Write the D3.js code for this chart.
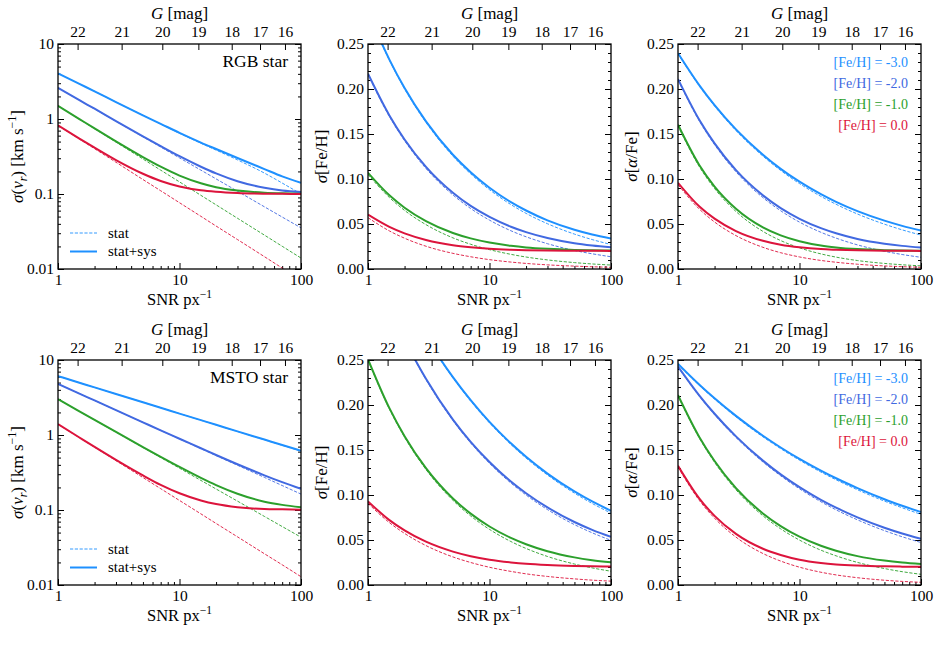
<!DOCTYPE html>
<html>
<head>
<meta charset="utf-8">
<script src="https://cdn.jsdelivr.net/npm/d3@7"></script>
<style>
  body { margin: 0; background: #fff; }
  svg { font-family: "Liberation Serif", "Times New Roman", serif; }
</style>
</head>
<body>
<svg id="fig" width="937" height="648"></svg>
<script>
// sample points along the SNR axis
const snr = [1, 1.5, 2, 3, 5, 7, 10, 15, 20, 30, 50, 70, 100];
const metals = ["-3.0", "-2.0", "-1.0", "0.0"];
const colors = ["#1e90ff", "#4169e1", "#2ca02c", "#dc143c"];
const gMag = [22, 21, 20, 19, 18, 17, 16];
const gSnr = [1.45, 3.34, 7.22, 14.3, 26.9, 46.0, 73.8];

// RGB star, sigma(v_r) [km/s], series order [Fe/H] = -3, -2, -1, 0
const rgbVrStat = [
  [4.07, 2.94, 2.34, 1.68, 1.12, 0.857, 0.645, 0.475, 0.385, 0.285, 0.19, 0.14, 0.10],
  [2.6, 1.78, 1.36, 0.933, 0.579, 0.423, 0.303, 0.208, 0.159, 0.109, 0.0675, 0.0493, 0.0354],
  [1.5, 0.994, 0.742, 0.492, 0.293, 0.208, 0.145, 0.096, 0.0717, 0.0475, 0.0283, 0.0201, 0.014],
  [0.82, 0.54, 0.402, 0.265, 0.156, 0.1105, 0.0765, 0.0504, 0.0374, 0.0247, 0.0146, 0.0103, 0.00714]
];
const rgbVrTot = [
  [4.07, 2.94, 2.34, 1.68, 1.12, 0.863, 0.653, 0.485, 0.398, 0.302, 0.215, 0.172, 0.141],
  [2.6, 1.78, 1.37, 0.938, 0.588, 0.435, 0.319, 0.231, 0.188, 0.148, 0.121, 0.111, 0.106],
  [1.5, 0.999, 0.749, 0.502, 0.31, 0.231, 0.176, 0.139, 0.123, 0.111, 0.104, 0.102, 0.101],
  [0.826, 0.549, 0.414, 0.283, 0.186, 0.149, 0.126, 0.112, 0.107, 0.103, 0.101, 0.1005, 0.1]
];
// RGB star, sigma[Fe/H]
const rgbFehStat = [
  [0.285, 0.2318, 0.2001, 0.1628, 0.1254, 0.1057, 0.0881, 0.0716, 0.0618, 0.0503, 0.0388, 0.0327, 0.0272],
  [0.216, 0.1694, 0.1425, 0.1117, 0.0823, 0.0672, 0.0543, 0.0425, 0.0358, 0.0281, 0.0206, 0.0169, 0.0136],
  [0.105, 0.0794, 0.0651, 0.0493, 0.0346, 0.0275, 0.0215, 0.0163, 0.0133, 0.0101, 0.0071, 0.0056, 0.0044],
  [0.057, 0.0423, 0.0342, 0.0253, 0.0174, 0.0136, 0.0104, 0.0077, 0.0062, 0.0046, 0.0032, 0.0025, 0.0019]
];
const rgbFehTot = [
  [0.2857, 0.2327, 0.2011, 0.164, 0.127, 0.1076, 0.0903, 0.0743, 0.065, 0.0541, 0.0436, 0.0383, 0.0338],
  [0.2169, 0.1706, 0.1439, 0.1135, 0.0847, 0.0701, 0.0579, 0.047, 0.041, 0.0345, 0.0287, 0.0262, 0.0242],
  [0.1069, 0.0819, 0.0681, 0.0532, 0.04, 0.034, 0.0294, 0.0258, 0.024, 0.0224, 0.0212, 0.0208, 0.0205],
  [0.0604, 0.0468, 0.0396, 0.0323, 0.0265, 0.0242, 0.0225, 0.0214, 0.0209, 0.0205, 0.0203, 0.0202, 0.0201]
];
// RGB star, sigma[alpha/Fe]
const rgbAlphaStat = [
  [0.239, 0.2031, 0.181, 0.1538, 0.1254, 0.1095, 0.0949, 0.0807, 0.0719, 0.0611, 0.0498, 0.0435, 0.0377],
  [0.21, 0.1643, 0.1381, 0.108, 0.0793, 0.0647, 0.0521, 0.0408, 0.0343, 0.0268, 0.0197, 0.0161, 0.013],
  [0.159, 0.1136, 0.0894, 0.0639, 0.0418, 0.0316, 0.0235, 0.0168, 0.0132, 0.0094, 0.0062, 0.0047, 0.0035],
  [0.0937, 0.0665, 0.0522, 0.0371, 0.0241, 0.0181, 0.0134, 0.0095, 0.0075, 0.0053, 0.0034, 0.0026, 0.0019]
];
const rgbAlphaTot = [
  [0.2398, 0.2041, 0.1821, 0.1551, 0.127, 0.1113, 0.097, 0.0831, 0.0746, 0.0643, 0.0537, 0.0479, 0.0427],
  [0.211, 0.1655, 0.1395, 0.1098, 0.0818, 0.0677, 0.0558, 0.0454, 0.0397, 0.0334, 0.0281, 0.0257, 0.0239],
  [0.1603, 0.1153, 0.0916, 0.067, 0.0463, 0.0374, 0.0309, 0.0261, 0.024, 0.0221, 0.0209, 0.0205, 0.0203],
  [0.0958, 0.0694, 0.0559, 0.0421, 0.0313, 0.027, 0.0241, 0.0221, 0.0214, 0.0207, 0.0203, 0.0202, 0.0201]
];
// MSTO star, sigma(v_r)
const mstoVrStat = [
  [6.1, 4.98, 4.31, 3.52, 2.73, 2.31, 1.93, 1.575, 1.364, 1.114, 0.863, 0.729, 0.61],
  [4.8, 3.56, 2.886, 2.143, 1.473, 1.15, 0.886, 0.658, 0.532, 0.395, 0.272, 0.212, 0.163],
  [3.0, 2.066, 1.586, 1.092, 0.682, 0.501, 0.361, 0.248, 0.1906, 0.1313, 0.0821, 0.0602, 0.0434],
  [1.39, 0.921, 0.687, 0.455, 0.271, 0.1925, 0.134, 0.0888, 0.0662, 0.0439, 0.0261, 0.0186, 0.0129]
];
const mstoVrTot = [
  [6.1, 4.98, 4.31, 3.52, 2.73, 2.31, 1.93, 1.578, 1.368, 1.118, 0.869, 0.736, 0.618],
  [4.8, 3.56, 2.888, 2.145, 1.476, 1.154, 0.892, 0.666, 0.541, 0.407, 0.29, 0.235, 0.191],
  [3.0, 2.068, 1.589, 1.097, 0.689, 0.511, 0.375, 0.268, 0.215, 0.165, 0.129, 0.117, 0.109],
  [1.394, 0.926, 0.694, 0.466, 0.289, 0.216, 0.167, 0.134, 0.12, 0.109, 0.103, 0.102, 0.101]
];
// MSTO star, sigma[Fe/H]
const mstoFehStat = [
  [0.406, 0.3519, 0.3179, 0.2755, 0.23, 0.2043, 0.1801, 0.1561, 0.141, 0.1222, 0.1021, 0.0906, 0.0799],
  [0.368, 0.3085, 0.2722, 0.2282, 0.1827, 0.1578, 0.1352, 0.1133, 0.1, 0.0838, 0.0671, 0.058, 0.0496],
  [0.25, 0.1955, 0.1642, 0.1283, 0.0941, 0.0767, 0.0618, 0.0483, 0.0406, 0.0317, 0.0233, 0.019, 0.0153],
  [0.0907, 0.0693, 0.0573, 0.0438, 0.0312, 0.025, 0.0197, 0.0151, 0.0124, 0.0095, 0.0068, 0.0054, 0.0043]
];
const mstoFehTot = [
  [0.4065, 0.3525, 0.3185, 0.2762, 0.2309, 0.2053, 0.1812, 0.1574, 0.1424, 0.1238, 0.104, 0.0928, 0.0824],
  [0.3685, 0.3091, 0.2729, 0.2291, 0.1838, 0.1591, 0.1367, 0.115, 0.102, 0.0862, 0.07, 0.0613, 0.0535],
  [0.2508, 0.1965, 0.1654, 0.1299, 0.0962, 0.0793, 0.065, 0.0523, 0.0453, 0.0375, 0.0307, 0.0276, 0.0252],
  [0.0929, 0.0721, 0.0607, 0.0481, 0.0371, 0.032, 0.0281, 0.0251, 0.0235, 0.0221, 0.0211, 0.0207, 0.0205]
];
// MSTO star, sigma[alpha/Fe]
const mstoAlphaStat = [
  [0.245, 0.2217, 0.2065, 0.1868, 0.1646, 0.1515, 0.1387, 0.1255, 0.1169, 0.1058, 0.0932, 0.0858, 0.0785],
  [0.242, 0.2095, 0.1892, 0.1639, 0.1367, 0.1213, 0.1069, 0.0925, 0.0835, 0.0724, 0.0604, 0.0536, 0.0472],
  [0.21, 0.1631, 0.1363, 0.1058, 0.0769, 0.0624, 0.0499, 0.0387, 0.0324, 0.0251, 0.0183, 0.0148, 0.0119],
  [0.131, 0.0939, 0.0742, 0.0532, 0.035, 0.0266, 0.0198, 0.0142, 0.0112, 0.0081, 0.0053, 0.004, 0.003]
];
const mstoAlphaTot = [
  [0.2458, 0.2226, 0.2075, 0.1879, 0.1658, 0.1528, 0.1401, 0.1271, 0.1186, 0.1077, 0.0953, 0.0881, 0.081],
  [0.2428, 0.2105, 0.1903, 0.1651, 0.1382, 0.1229, 0.1087, 0.0946, 0.0859, 0.0751, 0.0636, 0.0572, 0.0513],
  [0.211, 0.1643, 0.1378, 0.1077, 0.0795, 0.0655, 0.0537, 0.0436, 0.0381, 0.0321, 0.0271, 0.0249, 0.0233],
  [0.1325, 0.096, 0.0768, 0.0568, 0.0403, 0.0334, 0.0281, 0.0245, 0.0229, 0.0216, 0.0207, 0.0204, 0.0202]
];

const svg = d3.select("#fig");
const W = 243, H = 225;
const colX = [58, 368, 678];
const rowY = [44, 360];
const tickFont = 15.5, labelFont = 17;

// writes a label made of pieces (italic / sub / sup)
function rich(text, parts, size) {
  let shift = 0;
  parts.forEach(p => {
    const ts = text.append("tspan").text(p.t);
    if (p.i) ts.attr("font-style", "italic");
    const target = p.sup ? -0.4 * size : p.sub ? 0.22 * size : 0;
    if (target !== shift) { ts.attr("dy", target - shift); shift = target; }
    if (p.sup || p.sub) ts.attr("font-size", size * 0.7);
  });
}

const vrLabel = [{t: "σ", i: true}, {t: "("}, {t: "v", i: true}, {t: "r", i: true, sub: true}, {t: ") [km s"}, {t: "−1", sup: true}, {t: "]"}];
const fehLabel = [{t: "σ", i: true}, {t: "[Fe/H]"}];
const alphaLabel = [{t: "σ", i: true}, {t: "["}, {t: "α", i: true}, {t: "/Fe]"}];

const panels = [
  {col: 0, row: 0, log: true, stat: rgbVrStat, tot: rgbVrTot, ylab: vrLabel, tag: "RGB star", sysLegend: true},
  {col: 1, row: 0, log: false, stat: rgbFehStat, tot: rgbFehTot, ylab: fehLabel},
  {col: 2, row: 0, log: false, stat: rgbAlphaStat, tot: rgbAlphaTot, ylab: alphaLabel, fehLegend: true},
  {col: 0, row: 1, log: true, stat: mstoVrStat, tot: mstoVrTot, ylab: vrLabel, tag: "MSTO star", sysLegend: true},
  {col: 1, row: 1, log: false, stat: mstoFehStat, tot: mstoFehTot, ylab: fehLabel},
  {col: 2, row: 1, log: false, stat: mstoAlphaStat, tot: mstoAlphaTot, ylab: alphaLabel, fehLegend: true}
];

const xMinor = [2, 3, 4, 5, 6, 7, 8, 9, 20, 30, 40, 50, 60, 70, 80, 90];
const logMajor = [0.01, 0.1, 1, 10];
const logMinor = [];
[0.01, 0.1, 1].forEach(e => d3.range(2, 10).forEach(k => logMinor.push(+(k * e).toPrecision(3))));
const linMajor = [0, 0.05, 0.1, 0.15, 0.2, 0.25];
const linMinor = d3.range(1, 25).filter(k => k % 5 !== 0).map(k => k / 100);

const defs = svg.append("defs");

function styleAxis(g, size) {
  g.select(".domain").remove();
  g.selectAll(".tick line").attr("stroke", "#000").attr("stroke-width", 1);
  g.selectAll(".tick text").attr("fill", "#000").attr("font-size", size)
    .attr("font-family", "Liberation Serif, serif");
}

panels.forEach((p, pi) => {
  const x0 = colX[p.col], y0 = rowY[p.row];
  const x = d3.scaleLog().domain([1, 100]).range([x0, x0 + W]);
  const y = p.log
    ? d3.scaleLog().domain([0.01, 10]).range([y0 + H, y0])
    : d3.scaleLinear().domain([0, 0.25]).range([y0 + H, y0]);
  const g = svg.append("g");

  defs.append("clipPath").attr("id", "clip" + pi)
    .append("rect").attr("x", x0).attr("y", y0).attr("width", W).attr("height", H);

  // axes: ticks point inward on every side
  g.append("g").attr("transform", `translate(0,${y0 + H})`)
    .call(d3.axisBottom(x).tickValues([1, 10, 100]).tickFormat(d3.format("d"))
      .tickSizeInner(-6).tickSizeOuter(0).tickPadding(5))
    .call(a => styleAxis(a, tickFont));
  g.append("g").attr("transform", `translate(0,${y0 + H})`)
    .call(d3.axisBottom(x).tickValues(xMinor).tickFormat("").tickSizeInner(-3).tickSizeOuter(0))
    .call(a => styleAxis(a, tickFont));
  g.append("g").attr("transform", `translate(0,${y0})`)
    .call(d3.axisTop(x).tickValues(gSnr).tickFormat((d, i) => gMag[i])
      .tickSizeInner(-6).tickSizeOuter(0).tickPadding(7))
    .call(a => styleAxis(a, tickFont));

  const major = p.log ? logMajor : linMajor;
  const minor = p.log ? logMinor : linMinor;
  const fmt = p.log ? (d => String(d)) : d3.format(".2f");
  g.append("g").attr("transform", `translate(${x0},0)`)
    .call(d3.axisLeft(y).tickValues(major).tickFormat(fmt).tickSizeInner(-6).tickSizeOuter(0).tickPadding(4))
    .call(a => styleAxis(a, tickFont));
  g.append("g").attr("transform", `translate(${x0},0)`)
    .call(d3.axisLeft(y).tickValues(minor).tickFormat("").tickSizeInner(-3).tickSizeOuter(0))
    .call(a => styleAxis(a, tickFont));
  g.append("g").attr("transform", `translate(${x0 + W},0)`)
    .call(d3.axisRight(y).tickValues(major).tickFormat("").tickSizeInner(-6).tickSizeOuter(0))
    .call(a => styleAxis(a, tickFont));
  g.append("g").attr("transform", `translate(${x0 + W},0)`)
    .call(d3.axisRight(y).tickValues(minor).tickFormat("").tickSizeInner(-3).tickSizeOuter(0))
    .call(a => styleAxis(a, tickFont));

  // curves
  const line = d3.line().x(d => x(d[0])).y(d => y(d[1])).curve(d3.curveMonotoneX);
  const curves = g.append("g").attr("clip-path", `url(#clip${pi})`);
  metals.forEach((m, i) => {
    curves.append("path").datum(snr.map((s, k) => [s, p.stat[i][k]]))
      .attr("d", line).attr("fill", "none").attr("stroke", colors[i])
      .attr("stroke-width", 0.9).attr("stroke-dasharray", "3.2,1.6");
    curves.append("path").datum(snr.map((s, k) => [s, p.tot[i][k]]))
      .attr("d", line).attr("fill", "none").attr("stroke", colors[i])
      .attr("stroke-width", 2);
  });

  // frame
  g.append("rect").attr("x", x0).attr("y", y0).attr("width", W).attr("height", H)
    .attr("fill", "none").attr("stroke", "#000").attr("stroke-width", 1.3);

  // axis labels
  const xl = g.append("text").attr("x", x0 + W / 2).attr("y", y0 + H + 36)
    .attr("text-anchor", "middle").attr("font-size", 16.5);
  rich(xl, [{t: "SNR px"}, {t: "−1", sup: true}], 16.5);
  const gl = g.append("text").attr("x", x0 + W / 2).attr("y", y0 - 25)
    .attr("text-anchor", "middle").attr("font-size", labelFont);
  rich(gl, [{t: "G", i: true}, {t: " [mag]"}], labelFont);
  const yoff = p.log ? 35 : 41;
  const yl = g.append("text")
    .attr("transform", `translate(${x0 - yoff},${y0 + H / 2}) rotate(-90)`)
    .attr("text-anchor", "middle").attr("font-size", labelFont);
  rich(yl, p.ylab, labelFont);

  if (p.tag) {
    g.append("text").attr("x", x0 + W - 13).attr("y", y0 + 23)
      .attr("text-anchor", "end").attr("font-size", 17.5).text(p.tag);
  }
  if (p.sysLegend) {
    const items = [{t: "stat", dash: "3.2,1.6", w: 0.9}, {t: "stat+sys", dash: null, w: 2}];
    items.forEach((it, k) => {
      const ly = y0 + 189 + k * 18.5;
      g.append("line").attr("x1", x0 + 12).attr("x2", x0 + 39).attr("y1", ly).attr("y2", ly)
        .attr("stroke", colors[0]).attr("stroke-width", it.w)
        .attr("stroke-dasharray", it.dash);
      g.append("text").attr("x", x0 + 50).attr("y", ly + 4.5)
        .attr("font-size", 15).text(it.t);
    });
  }
  if (p.fehLegend) {
    metals.forEach((m, i) => {
      g.append("text").attr("x", x0 + W - 13).attr("y", y0 + 23 + i * 21)
        .attr("text-anchor", "end").attr("font-size", 14).attr("fill", colors[i])
        .text(`[Fe/H] = ${m}`);
    });
  }
});
</script>
</body>
</html>
